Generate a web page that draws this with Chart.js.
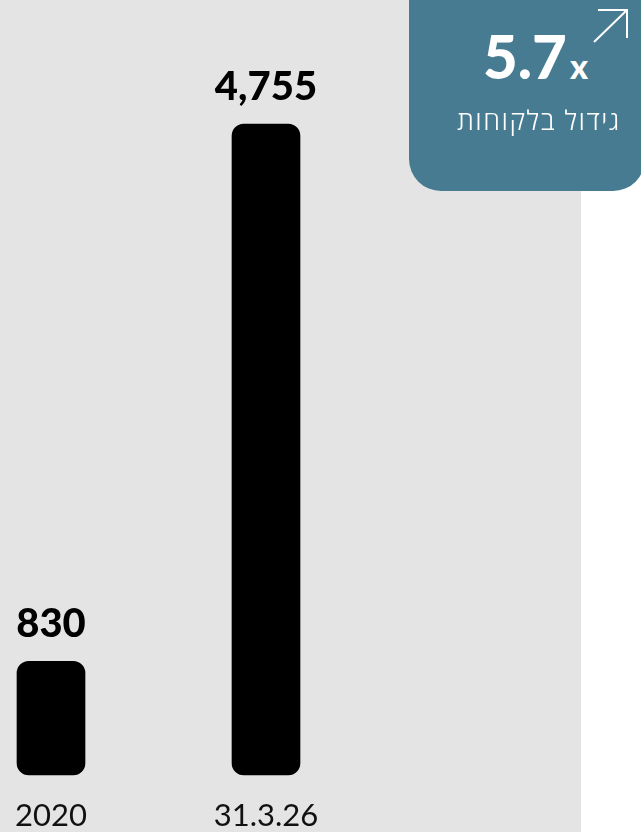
<!DOCTYPE html>
<html>
<head>
<meta charset="utf-8">
<script src="https://cdn.jsdelivr.net/npm/chart.js@4.4.1/dist/chart.umd.min.js"></script>
<style>
  body { margin: 0; background: #fff; width: 641px; height: 832px; overflow: hidden; position: relative; }
  .panel { position: absolute; left: 0; top: 0; width: 581px; height: 832px; background: #e4e4e4; }
  .panel canvas { position: absolute; left: 0; top: 0; }
  .badge {
    position: absolute; left: 409px; top: -30px; width: 236px; height: 221px;
    background: #477b91; border-radius: 32px; color: #fff; overflow: hidden;
  }
  .big { position: absolute; left: 74px; top: 56px; font-family: Lato, sans-serif; font-weight: 900; font-size: 60px; line-height: 1; white-space: nowrap; }
  .big span { font-size: 34px; margin-left: 3px; }
  .sub { position: absolute; left: 0; width: 260px; text-align: center; top: 131px; direction: rtl;
         font-family: "Open Sans", "DejaVu Sans", sans-serif; font-weight: 300; font-size: 27px; letter-spacing: 1.5px; white-space: nowrap; }
  .arrow { position: absolute; left: 590px; top: 6px; }
</style>
</head>
<body>
<div class="panel"><canvas id="chart" width="581" height="832"></canvas></div>
<div class="badge">
  <div class="big">5.7<span>x</span></div>
  <div class="sub">גידול בלקוחות</div>
</div>
<svg class="arrow" width="42" height="40" viewBox="0 0 42 40">
  <path d="M4 36 L37 4 M8 4 L37 4 L37 32" stroke="#fff" stroke-width="2" fill="none"/>
</svg>
<script>
const categories = ["2020", "31.3.26"];
const customers = [830, 4755];
const valueLabels = ["830", "4,755"];

const labelPlugin = {
  id: "valueLabels",
  afterDatasetsDraw(chart) {
    const ctx = chart.ctx;
    const meta = chart.getDatasetMeta(0);
    ctx.save();
    ctx.fillStyle = "#000";
    ctx.textAlign = "center";
    ctx.textBaseline = "alphabetic";
    ctx.font = "900 40px Lato";
    meta.data.forEach((bar, i) => {
      ctx.fillText(valueLabels[i], bar.x, bar.y - 24);
    });
    ctx.restore();
  }
};

new Chart(document.getElementById("chart"), {
  type: "bar",
  data: {
    labels: categories,
    datasets: [{
      data: customers,
      backgroundColor: "#000",
      barThickness: 68,
      borderRadius: 12,
      borderSkipped: false,
      clip: false
    }]
  },
  options: {
    responsive: false,
    animation: false,
    layout: { padding: { top: 22, left: 51, right: 315, bottom: 0 } },
    plugins: { legend: { display: false }, tooltip: { enabled: false } },
    scales: {
      x: {
        offset: false,
        grid: { display: false, drawTicks: false },
        border: { display: false },
        ticks: { color: "#111", font: { family: "Lato", size: 31 }, padding: 22, maxRotation: 0 },
        afterFit(scale) {
          scale.height = 57;
          scale.paddingLeft = 0;
          scale.paddingRight = 0;
        }
      },
      y: { display: false, min: 0, max: 5500 }
    }
  },
  plugins: [labelPlugin]
});
</script>
</body>
</html>
